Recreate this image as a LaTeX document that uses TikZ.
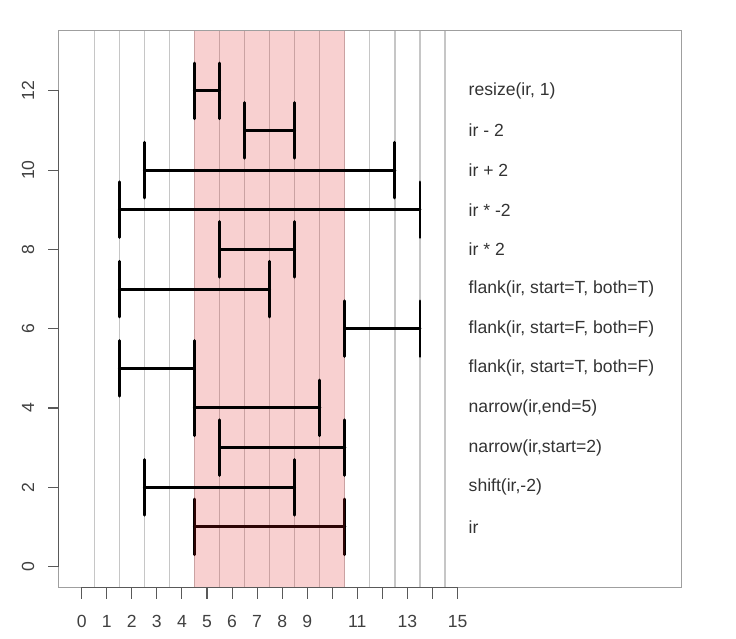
\documentclass[tikz,border=0pt]{standalone}
\usepackage{fontspec}
\setmainfont{Liberation Sans}
\newcommand\ivl[3]{\draw[span] (#2,#1-0.7) -- (#2,#1+0.7) (#2,#1) -- (#3,#1) (#3,#1-0.7) -- (#3,#1+0.7);}
\begin{document}
\begin{tikzpicture}[x=0.5012cm, y=0.793cm, font=\fontsize{10}{12}\selectfont,
    grid/.style = {draw=gray!45, line width=0.7pt},
    span/.style = {line width=1.7pt, line cap=round},
    lab/.style = {anchor=west, text=black!80, inner sep=0pt},
    tk/.style = {draw=black!65, line width=0.6pt},
    ticklab/.style = {text=black!75, inner sep=0pt}]
    \useasboundingbox (-3.26,-1.823) rectangle (26.11,14.29);

    \foreach \g in {0.5,1.5,...,14.5}
        \draw[grid] (\g,-0.52) -- (\g,13.52);

    \ivl{1}{4.5}{10.5}
    \fill[fill={rgb,255:red,220;green,20;blue,20}, fill opacity=0.2] (4.5,-0.52) rectangle (10.5,13.52);

    \ivl{2}{2.5}{8.5}
    \ivl{3}{5.5}{10.5}
    \ivl{4}{4.5}{9.5}
    \ivl{5}{1.5}{4.5}
    \ivl{6}{10.5}{13.5}
    \ivl{7}{1.5}{7.5}
    \ivl{8}{5.5}{8.5}
    \ivl{9}{1.5}{13.5}
    \ivl{10}{2.5}{12.5}
    \ivl{11}{6.5}{8.5}
    \ivl{12}{4.5}{5.5}

    \coordinate (sw) at (-0.92,-0.52);
    \coordinate (ne) at (23.92,13.52);
    \draw[gray!75, line width=0.6pt] (sw) rectangle (ne);

    \node[lab] (L1) at (15.43,1) {ir};
    \node[lab] (L2) at (15.43,2) {shift(ir,-2)};
    \node[lab] (L3) at (15.43,3) {narrow(ir,start=2)};
    \node[lab] (L4) at (15.43,4) {narrow(ir,end=5)};
    \node[lab] (L5) at (15.43,5) {flank(ir, start=T, both=F)};
    \node[lab] (L6) at (15.43,6) {flank(ir, start=F, both=F)};
    \node[lab] (L7) at (15.43,7) {flank(ir, start=T, both=T)};
    \node[lab] (L8) at (15.43,8) {ir * 2};
    \node[lab] (L9) at (15.43,9) {ir * -2};
    \node[lab] (L10) at (15.43,10) {ir + 2};
    \node[lab] (L11) at (15.43,11) {ir - 2};
    \node[lab] (L12) at (15.43,12) {resize(ir, 1)};

    \draw[tk] (0,-0.52) -- (15,-0.52);
    \foreach \x in {0,...,15}
        \draw[tk] (\x,-0.52) -- (\x,-0.805);
    \foreach \x in {0,...,9,11,13,15}
        \node[ticklab] (X\x) at (\x,-1.387) {\x};

    \draw[tk] (-0.92,0) -- (-0.92,12);
    \foreach \y in {0,2,...,12} {
        \draw[tk] (-0.92,\y) -- (-1.34,\y);
        \node[ticklab, rotate=90] (Y\y) at (-2.14,\y) {\y};
    }
\end{tikzpicture}
\end{document}
